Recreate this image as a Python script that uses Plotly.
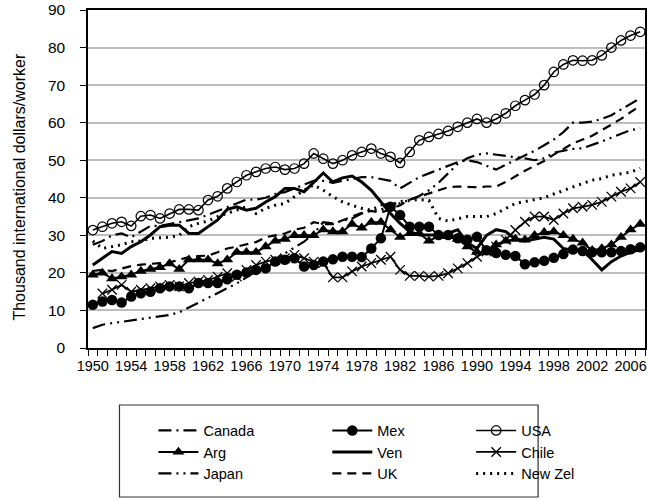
import plotly.graph_objects as go

years = list(range(1950, 2008))

canada = [27.5, 28.5, 30.0, 30.5, 29.5, 31.0, 32.5, 32.5, 33.0, 33.5,
          34.0, 34.5, 35.5, 36.5, 37.5, 38.5, 39.5, 39.5, 40.0, 41.0,
          41.5, 42.5, 43.5, 44.5, 44.5, 44.0, 44.5, 45.0, 45.5, 45.5,
          45.0, 44.5, 42.5, 44.0, 45.5, 46.5, 47.5, 48.5, 49.5, 50.0,
          49.5, 48.5, 47.5, 48.8, 50.0, 51.3, 52.5, 54.0, 55.5, 57.5,
          60.0, 60.0, 60.3, 61.0, 62.0, 63.5, 65.0, 66.5]
mex = [11.5, 12.4, 12.8, 12.1, 13.7, 14.6, 15.0, 15.9, 16.4, 16.4,
       15.9, 17.3, 17.3, 17.3, 18.3, 19.5, 20.1, 20.8, 21.2, 23.0,
       23.5, 23.9, 21.7, 22.1, 23.0, 23.6, 24.3, 24.3, 24.2, 26.5,
       29.2, 37.6, 35.4, 32.3, 32.3, 32.3, 30.1, 30.1, 29.2, 28.8,
       29.6, 26.0, 25.3, 24.8, 24.5, 22.3, 22.8, 23.2, 24.0, 25.0,
       26.2, 25.8, 25.5, 25.5, 25.5, 25.8, 26.3, 26.8]
usa = [31.4, 32.3, 33.2, 33.6, 32.5, 35.1, 35.4, 34.5, 35.8, 36.9,
       36.9, 36.7, 39.4, 40.4, 42.5, 44.2, 46.0, 46.9, 47.8, 48.2,
       47.5, 47.8, 49.1, 51.8, 50.4, 49.1, 50.0, 51.3, 52.2, 53.1,
       51.8, 50.9, 49.3, 52.2, 55.3, 56.2, 57.0, 57.8, 58.9, 60.0,
       61.0, 60.0, 61.0, 62.5, 64.5, 66.0, 67.5, 70.0, 73.5, 75.5,
       76.6, 76.5, 76.6, 77.9, 80.0, 81.9, 83.2, 84.2]
arg = [19.5, 20.0, 18.5, 19.0, 19.5, 20.5, 21.0, 21.5, 22.5, 21.0,
       23.5, 23.5, 23.5, 22.5, 23.5, 25.5, 25.5, 25.5, 27.0, 28.5,
       29.0, 30.0, 30.0, 30.0, 31.5, 31.0, 31.0, 33.0, 32.0, 33.5,
       33.5, 31.5, 29.5, 30.5, 30.5, 28.5, 29.8, 29.8, 29.0, 27.0,
       25.5, 25.5, 27.5, 28.5, 29.0, 28.8, 30.0, 30.8, 31.0, 30.0,
       29.0, 28.0, 26.0, 26.5, 27.5, 29.5, 31.5, 33.0]
ven = [22.1, 23.9, 25.7, 25.2, 27.0, 28.3, 30.1, 32.3, 32.7, 32.7,
       30.5, 30.5, 32.3, 34.1, 36.9, 37.6, 36.7, 37.2, 38.9, 40.3,
       42.5, 42.5, 41.6, 44.2, 46.6, 44.2, 45.3, 45.8, 44.2, 42.0,
       38.9, 35.8, 33.2, 31.0, 30.1, 30.1, 30.1, 30.5, 31.5, 28.0,
       26.5, 30.0, 31.5, 31.0, 29.0, 28.5, 29.0, 29.5, 29.0, 26.5,
       26.0, 26.0, 23.5, 20.8, 23.0, 24.5, 25.5, 26.2]
chile = [None, 14.5, 15.5, 16.8, 15.0, 15.5, 15.9, 16.4, 16.8, 16.4,
         17.3, 17.7, 18.1, 19.0, 19.9, 19.0, 20.8, 22.1, 23.0, 23.5,
         23.9, 24.8, 23.9, 23.0, 22.6, 18.8, 18.8, 20.4, 21.7, 22.6,
         23.5, 24.3, 20.8, 19.2, 19.2, 19.0, 19.2, 19.9, 21.2, 22.6,
         24.3, 25.7, 27.0, 28.8, 31.4, 33.6, 35.0, 35.0, 34.1, 35.8,
         37.2, 37.6, 38.1, 38.9, 40.3, 41.6, 42.5, 44.2]
japan = [5.3, 6.2, 6.6, 7.0, 7.3, 7.7, 8.0, 8.4, 8.8, 9.5,
         10.8, 12.0, 13.2, 14.5, 16.0, 17.2, 18.8, 20.3, 21.8, 23.5,
         25.2, 26.8, 28.3, 30.5, 33.5, 33.2, 33.8, 34.5, 35.8, 37.0,
         38.0, 38.5, 38.5, 39.5, 40.5, 42.0, 44.0, 46.5, 49.0, 50.5,
         51.5, 51.8, 51.5, 51.2, 51.0, 50.5, 50.0, 50.5, 52.0, 52.5,
         53.0, 53.2, 54.0, 55.0, 56.0, 57.0, 58.0, 58.5]
uk = [20.5, 20.8, 20.5, 21.2, 21.8, 22.2, 22.3, 22.6, 22.8, 23.4,
      24.2, 24.5, 24.6, 25.5, 26.5, 27.0, 27.5, 28.2, 29.5, 30.0,
      30.5, 31.5, 32.0, 33.5, 33.0, 33.0, 34.0, 35.0, 36.0, 36.5,
      36.0, 37.0, 38.0, 39.5, 40.3, 41.0, 42.0, 42.8, 43.0, 42.8,
      42.8, 43.0, 43.0, 44.2, 45.8, 47.2, 48.5, 49.8, 51.5, 53.0,
      54.5, 55.5, 56.5, 58.0, 59.5, 61.0, 62.8, 64.5]
newzel = [28.5, 26.5, 27.0, 27.5, 28.3, 28.5, 29.2, 29.3, 29.5, 30.0,
          32.3, 33.2, 33.8, 35.0, 35.8, 36.7, 37.6, 35.8, 37.2, 38.0,
          38.5, 40.3, 42.0, 43.4, 42.0, 40.3, 38.9, 38.0, 37.2, 36.7,
          36.7, 38.0, 39.0, 39.3, 39.5, 39.3, 34.5, 33.8, 34.5, 35.0,
          35.0, 35.0, 35.8, 37.2, 38.5, 39.0, 39.4, 40.0, 41.0, 42.0,
          43.0, 43.8, 44.7, 45.1, 46.0, 46.5, 46.8, 47.8]

xtick_years = list(range(1950, 2007, 4))
ytick_vals = list(range(0, 91, 10))
y_title = "Thousand international dollars/worker"

K = "black"
FONT = "Liberation Sans, Arial, sans-serif"

# plot area in pixels
L, R, T, B = 87.5, 645.0, 10.0, 348.0
W, H = R - L, B - T

def px(x):
    return (x - L) / W

def py(y):
    return (B - y) / H

fig = go.Figure()

# legend slots: name -> (column, row)
col_text = [204, 378, 522]
row_mid = [430.5, 452.0, 473.5]
slot = {"Canada": (0, 0), "Mex": (1, 0), "USA": (2, 0),
        "Arg": (0, 1), "Ven": (1, 1), "Chile": (2, 1),
        "Japan": (0, 2), "UK": (1, 2), "New Zel": (2, 2)}
legend_ids = {}
for i, nm in enumerate(["Canada", "Mex", "USA", "Arg", "Ven", "Chile", "Japan", "UK", "New Zel"]):
    legend_ids[nm] = "legend" if i == 0 else "legend%d" % (i + 1)

def add(name, y, dash="solid", width=2, marker=None, mode="lines"):
    kw = dict(x=years, y=y, name=name, legend=legend_ids[name], mode=mode,
              line=dict(color=K, width=width, dash=dash),
              connectgaps=False, hoverinfo="skip")
    if marker:
        kw["marker"] = marker
    fig.add_trace(go.Scatter(**kw))

# draw order (back to front)
add("New Zel", newzel, dash="2px,5px", width=3)
add("UK", uk, dash="9px,6px", width=2.2)
add("Japan", japan, dash="13px,5px,2px,5px,2px,5px", width=2.2)
add("Canada", canada, dash="13px,5px,2px,5px", width=2.2)
add("USA", usa, width=1.6, mode="lines+markers",
    marker=dict(symbol="circle-open", size=9.5, color=K, line=dict(width=1.2, color=K)))
add("Chile", chile, width=1.8, mode="lines+markers",
    marker=dict(symbol="x-thin-open", size=9.5, color=K, line=dict(width=1.3, color=K)))
add("Arg", arg, width=2, mode="lines+markers",
    marker=dict(symbol="triangle-up", size=10.5, color=K))
add("Mex", mex, width=2, mode="lines+markers",
    marker=dict(symbol="circle", size=10.5, color=K))
add("Ven", ven, width=3)

legends = {}
for nm, (c, r) in slot.items():
    lx = col_text[c] - 51
    ly = row_mid[r] - 16
    legends[legend_ids[nm]] = dict(
        x=px(lx), y=py(ly), xanchor="left", yanchor="top", orientation="v",
        font=dict(family=FONT, size=14.5, color=K), bgcolor="rgba(0,0,0,0)",
        itemwidth=40, itemclick=False, itemdoubleclick=False)

fig.update_layout(
    width=648, height=501,
    margin=dict(l=L, r=648 - R, t=T, b=501 - B, autoexpand=False),
    paper_bgcolor="white", plot_bgcolor="white",
    font=dict(family=FONT, size=14, color=K),
    showlegend=True,
    xaxis=dict(range=[1949.5, 2007.5], tickmode="array", tickvals=xtick_years,
               ticktext=[str(v) for v in xtick_years], ticks="", showgrid=False,
               showline=True, linecolor=K, linewidth=1.5, mirror=True,
               automargin=False, ticklabelstandoff=4,
               tickfont=dict(family=FONT, size=14.5, color=K), zeroline=False,
               minor=dict(ticks="outside", tick0=1949.5, dtick=1, ticklen=6,
                          tickcolor=K, tickwidth=1, showgrid=False)),
    yaxis=dict(range=[0, 90], tickmode="array", tickvals=ytick_vals,
               ticks="outside", ticklen=6, tickcolor=K, showgrid=True,
               gridcolor="#bdbdbd", gridwidth=1.5, showline=True, linecolor=K,
               linewidth=1.5, mirror=True, zeroline=False, automargin=False,
               ticklabelstandoff=12,
               tickfont=dict(family=FONT, size=15.5, color=K)),
    annotations=[dict(text=y_title, textangle=-90, xref="paper", yref="paper",
                      x=px(18), y=py(187), xanchor="center", yanchor="middle",
                      showarrow=False, font=dict(family=FONT, size=16, color=K))],
    shapes=[dict(type="rect", xref="paper", yref="paper",
                 x0=px(119), x1=px(538), y0=py(497), y1=py(405),
                 line=dict(color="#333333", width=1.2), fillcolor="rgba(0,0,0,0)")],
    **legends,
)

fig.write_html("out.html", config={"displayModeBar": False},
               post_script="document.body.style.margin='0';document.body.style.overflow='hidden';")
